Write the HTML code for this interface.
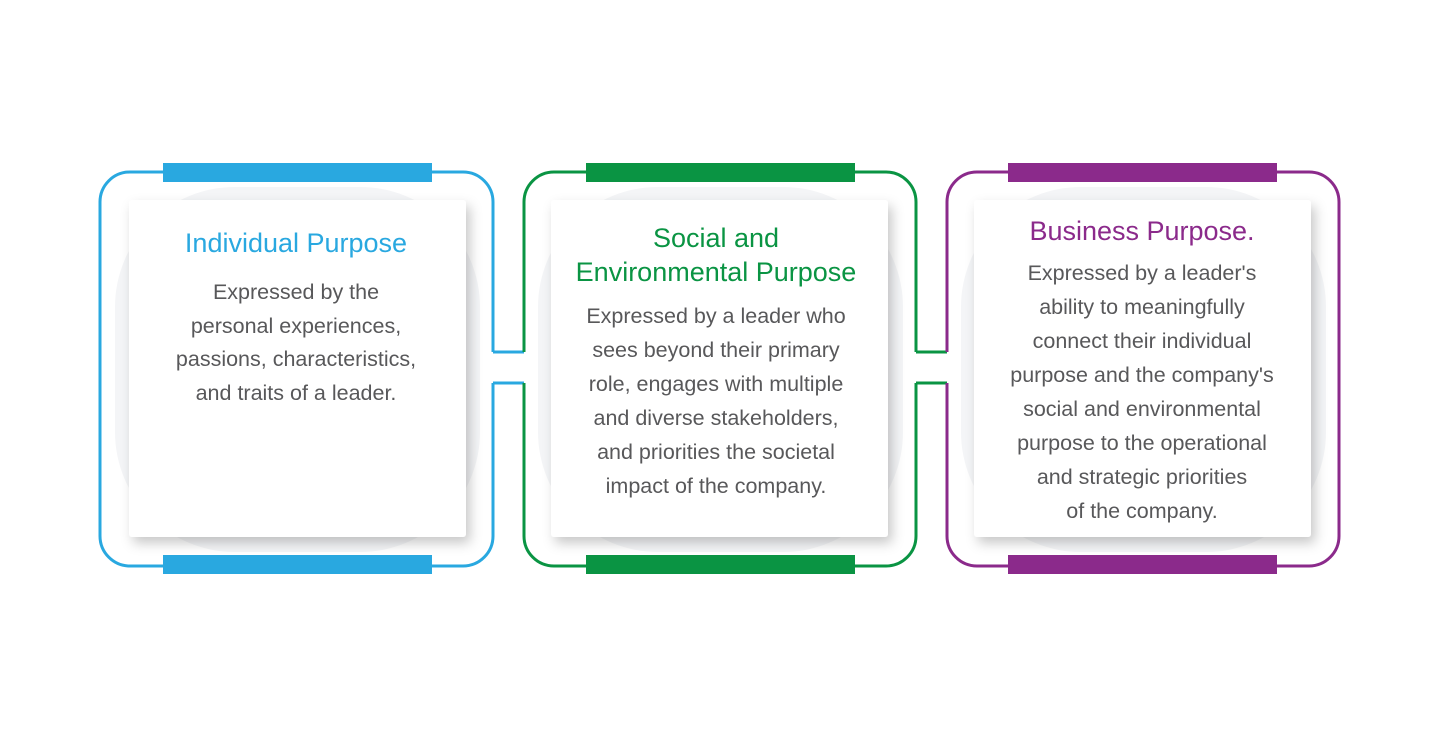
<!DOCTYPE html>
<html><head><meta charset="utf-8"><style>
html,body{margin:0;padding:0;background:#fff;}
svg{display:block;}
text{font-family:"Liberation Sans",sans-serif;text-anchor:middle;}
.b{font-size:21.5px;fill:#58585a;}
.t{font-size:27px;}
</style></head><body>
<svg width="1440" height="738" viewBox="0 0 1440 738" xmlns="http://www.w3.org/2000/svg">
<defs>
<filter id="sh" x="-10%" y="-10%" width="130%" height="130%">
<feDropShadow dx="4" dy="6" stdDeviation="6" flood-color="#000" flood-opacity="0.22"/>
</filter>
</defs>
<rect x="115" y="187" width="365" height="365" rx="120" fill="#f4f5f7"/>
<rect x="538" y="187" width="365" height="365" rx="120" fill="#f4f5f7"/>
<rect x="961" y="187" width="365" height="365" rx="120" fill="#f4f5f7"/>
<g fill="none" stroke-width="3">
<path d="M493,352 V202 A30,30 0 0 0 463,172 H130 A30,30 0 0 0 100,202 V536 A30,30 0 0 0 130,566 H463 A30,30 0 0 0 493,536 V383" stroke="#29a8e0"/>
<path d="M493,352 H524 M493,383 H524" stroke="#29a8e0"/>
<path d="M524,352 V202 A30,30 0 0 1 554,172 H886 A30,30 0 0 1 916,202 V352 M916,383 V536 A30,30 0 0 1 886,566 H554 A30,30 0 0 1 524,536 V383" stroke="#0a9443"/>
<path d="M916,352 H947 M916,383 H947" stroke="#0a9443"/>
<path d="M947,352 V202 A30,30 0 0 1 977,172 H1309 A30,30 0 0 1 1339,202 V536 A30,30 0 0 1 1309,566 H977 A30,30 0 0 1 947,536 V383" stroke="#8b2a8b"/>
</g>
<rect x="163" y="163" width="269" height="19" fill="#29a8e0"/>
<rect x="163" y="555" width="269" height="19" fill="#29a8e0"/>
<rect x="586" y="163" width="269" height="19" fill="#0a9443"/>
<rect x="586" y="555" width="269" height="19" fill="#0a9443"/>
<rect x="1008" y="163" width="269" height="19" fill="#8b2a8b"/>
<rect x="1008" y="555" width="269" height="19" fill="#8b2a8b"/>
<rect x="129" y="200" width="337" height="337" rx="3" fill="#fff" filter="url(#sh)"/>
<rect x="551" y="200" width="337" height="337" rx="3" fill="#fff" filter="url(#sh)"/>
<rect x="974" y="200" width="337" height="337" rx="3" fill="#fff" filter="url(#sh)"/>
<text class="t" x="296" y="252" fill="#29a8e0">Individual Purpose</text>
<text class="b" x="296" y="299">Expressed by the</text>
<text class="b" x="296" y="333">personal experiences,</text>
<text class="b" x="296" y="366">passions, characteristics,</text>
<text class="b" x="296" y="400">and traits of a leader.</text>
<text class="t" x="716" y="247" fill="#0a9443">Social and</text>
<text class="t" x="716" y="281" fill="#0a9443">Environmental Purpose</text>
<text class="b" x="716" y="323">Expressed by a leader who</text>
<text class="b" x="716" y="357">sees beyond their primary</text>
<text class="b" x="716" y="391">role, engages with multiple</text>
<text class="b" x="716" y="425">and diverse stakeholders,</text>
<text class="b" x="716" y="459">and priorities the societal</text>
<text class="b" x="716" y="493">impact of the company.</text>
<text class="t" x="1142" y="240" fill="#8b2a8b">Business Purpose.</text>
<text class="b" x="1142" y="280">Expressed by a leader's</text>
<text class="b" x="1142" y="314">ability to meaningfully</text>
<text class="b" x="1142" y="348">connect their individual</text>
<text class="b" x="1142" y="382">purpose and the company's</text>
<text class="b" x="1142" y="416">social and environmental</text>
<text class="b" x="1142" y="450">purpose to the operational</text>
<text class="b" x="1142" y="484">and strategic priorities</text>
<text class="b" x="1142" y="518">of the company.</text>
</svg>
</body></html>
